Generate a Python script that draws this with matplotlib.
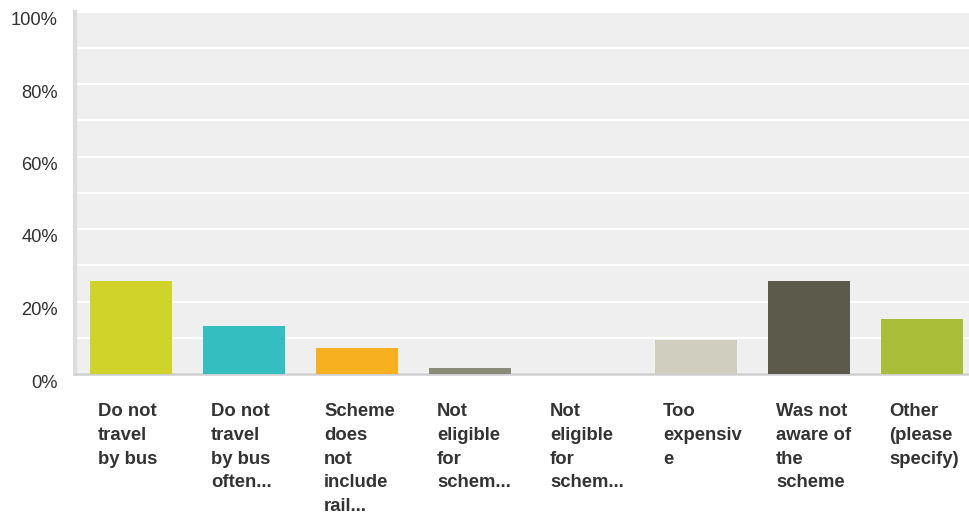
import matplotlib
matplotlib.use("Agg")
import matplotlib.pyplot as plt
from matplotlib.transforms import ScaledTranslation, blended_transform_factory
from matplotlib.ticker import MultipleLocator

categories = [
    "Do not\ntravel\nby bus",
    "Do not\ntravel\nby bus\noften...",
    "Scheme\ndoes\nnot\ninclude\nrail...",
    "Not\neligible\nfor\nschem...",
    "Not\neligible\nfor\nschem...",
    "Too\nexpensiv\ne",
    "Was not\naware of\nthe\nscheme",
    "Other\n(please\nspecify)",
]
values = [25.7, 13.3, 7.2, 1.7, 0.0, 9.4, 25.7, 15.2]
colors = ["#D0D42A", "#34BEC0", "#F7B01F", "#8A8A79", "#9FA08F",
          "#CFCEBF", "#5C5A4B", "#A9BD39"]
yticks = [0, 20, 40, 60, 80, 100]
ytick_labels = ["0%", "20%", "40%", "60%", "80%", "100%"]

W, H, DPI = 969, 519, 100
fig = plt.figure(figsize=(W / DPI, H / DPI), dpi=DPI)
fig.patch.set_facecolor("white")
left, right, top, bottom = 74.5, 978.5, 11.5, 374
ax = fig.add_axes([left / W, (H - bottom) / H, (right - left) / W, (bottom - top) / H])
ax.set_facecolor("#EFEFEF")

x = list(range(len(categories)))
ax.bar(x, values, width=0.726, color=colors, zorder=3)
ax.set_xlim(-0.5, len(categories) - 0.5)
ax.set_ylim(0, 100)

ax.yaxis.set_major_locator(MultipleLocator(20))
ax.yaxis.set_minor_locator(MultipleLocator(10))
ax.grid(axis="y", which="both", color="white", linewidth=1.6, zorder=1)
ax.set_axisbelow(True)
ax.set_yticks(yticks)
ax.set_yticklabels(ytick_labels, fontsize=13.2, color="#333333",
                   family="Liberation Sans")
ax.tick_params(axis="y", which="both", length=0, pad=12)
ax.tick_params(axis="x", length=0, labelbottom=False)
offset = ScaledTranslation(0, -7 / DPI, fig.dpi_scale_trans)
for lbl in ax.get_yticklabels():
    lbl.set_transform(lbl.get_transform() + offset)

for s in ["top", "right"]:
    ax.spines[s].set_visible(False)
ax.spines["left"].set_color("#DDDDDD")
ax.spines["left"].set_linewidth(3)
ax.spines["bottom"].set_color("#CFCFCF")
ax.spines["bottom"].set_linewidth(1.8)

trans = blended_transform_factory(ax.transData, ax.transAxes)
for i, cat in enumerate(categories):
    t = trans + ScaledTranslation(-33 / DPI, -29 / DPI, fig.dpi_scale_trans)
    ax.text(i, 0, cat, transform=t, ha="left", va="top", fontsize=13.3,
            fontweight="bold", color="#333333", family="Liberation Sans",
            linespacing=1.52)

fig.savefig("out.png", dpi=DPI, facecolor="white")
